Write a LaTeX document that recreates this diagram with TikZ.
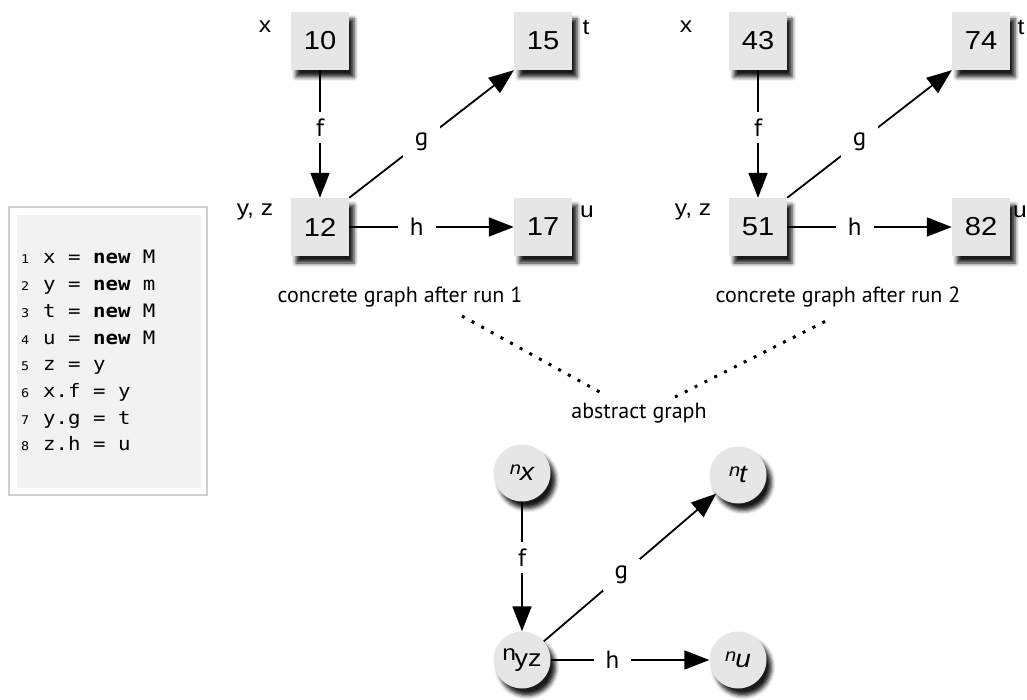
\documentclass[tikz,border=0pt]{standalone}
\usepackage{fontspec}
\setmainfont{Liberation Sans}[FakeStretch=1.12]
\setmonofont{DejaVu Sans Mono}[FakeStretch=1.12]
\newfontfamily\capfont{PT Sans}
\usetikzlibrary{arrows.meta,shadows.blur}
\definecolor{boxgray}{HTML}{E6E6E6}
\definecolor{codebg}{HTML}{F2F2F2}
\definecolor{codeframe}{HTML}{CFCFCF}
\begin{document}
\begin{tikzpicture}[x=1pt,y=-1pt,
  myshadow/.style={blur shadow={shadow xshift=5pt,shadow yshift=-7pt,shadow blur radius=4pt,shadow opacity=90}},
  valbox/.style={fill=boxgray,minimum size=58pt,inner sep=0pt,
    font=\fontsize{26}{26}\selectfont,myshadow},
  absnode/.style={circle,fill=boxgray,minimum size=57pt,inner sep=0pt,myshadow},
  varlbl/.style={font=\fontsize{22}{22}\selectfont,inner sep=0pt},
  edgelbl/.style={fill=white,font=\capfont\fontsize{25}{25}\selectfont,inner xsep=12pt,inner ysep=7pt},
  caption/.style={font=\capfont\fontsize{22}{22}\selectfont,inner sep=0pt},
  arr/.style={line width=1.8pt,-{Triangle[length=25pt,width=19pt]}},
  dotline/.style={line width=3pt,dash pattern=on 3pt off 8pt},
  codeline/.style={anchor=base west,font=\ttfamily\fontsize{18.5}{18.5}\selectfont,inner sep=0pt},
  codenum/.style={anchor=base west,font=\ttfamily\fontsize{12}{12}\selectfont,inner sep=0pt}
]
\useasboundingbox (0,0) rectangle (1027,700);

% code box
\draw[codeframe,line width=1.4pt] (9,207) rectangle (207,495);
\fill[codebg] (17,215) rectangle (201,488);
\foreach \i/\t in {1/{x = \textbf{new} M},2/{y = \textbf{new} m},3/{t = \textbf{new} M},4/{u = \textbf{new} M},5/{z = y},6/{x.f = y},7/{y.g = t},8/{z.h = u}}{
  \node[codenum] (num\i) at (21,{264+26.7*(\i-1)}) {\i};
  \node[codeline] (code\i) at (43,{264+26.7*(\i-1)}) {\t};
}

% concrete graph 1
\node[valbox] (a10) at (320,41) {10};
\node[valbox] (a15) at (543,41) {15};
\node[valbox] (a12) at (320,227) {12};
\node[valbox] (a17) at (543,227) {17};
\node[varlbl] (lx1) at (265,27) {x};
\node[varlbl] (lt1) at (586,27) {t};
\node[varlbl] (lyz1) at (255,212) {y, z};
\node[varlbl] (lu1) at (587,212) {u};
\draw[arr] (a10) -- node[edgelbl,pos=0.45] {f} (a12);
\draw[arr] (a12.north east) -- node[edgelbl,pos=0.44] {g} (a15.south west);
\draw[arr] (a12) -- node[edgelbl,pos=0.41] {h} (a17);
\node[caption] (cap1) at (400,297) {concrete graph after run 1};

% concrete graph 2
\node[valbox] (b43) at (758,41) {43};
\node[valbox] (b74) at (981,41) {74};
\node[valbox] (b51) at (758,227) {51};
\node[valbox] (b82) at (981,227) {82};
\node[varlbl] (lx2) at (686,27) {x};
\node[varlbl] (lt2) at (1021,27) {t};
\node[varlbl] (lyz2) at (693,212) {y, z};
\node[varlbl] (lu2) at (1020,212) {u};
\draw[arr] (b43) -- node[edgelbl,pos=0.45] {f} (b51);
\draw[arr] (b51.north east) -- node[edgelbl,pos=0.44] {g} (b74.south west);
\draw[arr] (b51) -- node[edgelbl,pos=0.41] {h} (b82);
\node[caption] (cap2) at (838,297) {concrete graph after run 2};

% abstract graph
\node[caption] (abs) at (639,413) {abstract graph};
\coordinate (d1s) at (462,316);
\coordinate (d1e) at (605,395);
\coordinate (d2s) at (675,397);
\coordinate (d2e) at (832,318);
\draw[dotline] (d1s) -- (d1e);
\draw[dotline] (d2s) -- (d2e);

\node[absnode] (nx) at (522,473) {\raisebox{6pt}{\fontsize{18}{18}\itshape n}\hspace{-1pt}{\fontsize{25}{25}\itshape x}};
\node[absnode] (nt) at (738,475) {\raisebox{6pt}{\fontsize{18}{18}\itshape n}\hspace{-1pt}{\fontsize{25}{25}\itshape t}};
\node[absnode] (nyz) at (522,660) {\raisebox{6pt}{\fontsize{22}{22}\selectfont n}\hspace{-1.5pt}{\fontsize{24}{24}\selectfont yz}};
\node[absnode] (nu) at (738,660) {\raisebox{6pt}{\fontsize{18}{18}\itshape n}\hspace{-1pt}{\fontsize{25}{25}\itshape u}};
\draw[arr] (nx) -- node[edgelbl,pos=0.43] {f} (nyz);
\draw[arr] (nyz) -- node[edgelbl,pos=0.45] {g} (nt);
\draw[arr] (nyz) -- node[edgelbl,pos=0.39] {h} (nu);
\end{tikzpicture}
\end{document}
